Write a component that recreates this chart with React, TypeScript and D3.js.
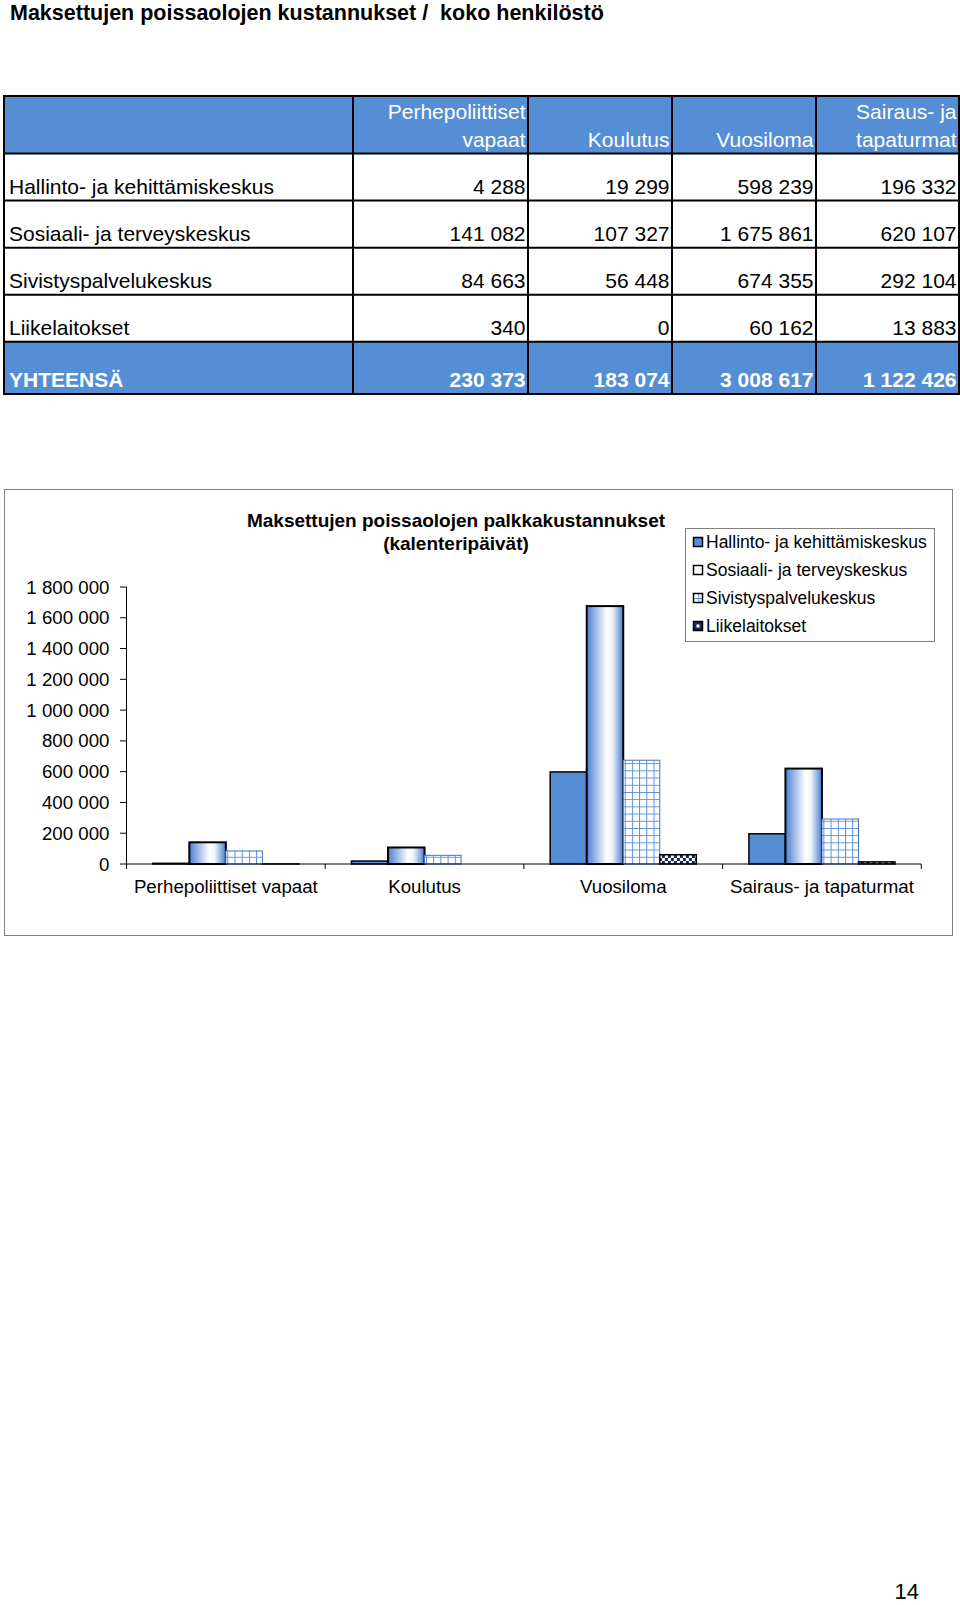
import React from "react";
import * as d3 from "d3";

const categories = ["Perhepoliittiset vapaat", "Koulutus", "Vuosiloma", "Sairaus- ja tapaturmat"];
const headerLines = [["Perhepoliittiset", "vapaat"], ["Koulutus"], ["Vuosiloma"], ["Sairaus- ja", "tapaturmat"]];
const units = ["Hallinto- ja kehittämiskeskus", "Sosiaali- ja terveyskeskus", "Sivistyspalvelukeskus", "Liikelaitokset"];
const hallinto = [4288, 19299, 598239, 196332];
const sosiaali = [141082, 107327, 1675861, 620107];
const sivistys = [84663, 56448, 674355, 292104];
const liike = [340, 0, 60162, 13883];
const totals = [230373, 183074, 3008617, 1122426];
const totalLabel = "YHTEENSÄ";
const yTicks = [0, 200000, 400000, 600000, 800000, 1000000, 1200000, 1400000, 1600000, 1800000];
const pageTitle = "Maksettujen poissaolojen kustannukset /  koko henkilöstö";
const chartTitle = ["Maksettujen poissaolojen palkkakustannukset", "(kalenteripäivät)"];
const pageNumber = "14";

const seriesValues = [hallinto, sosiaali, sivistys, liike];
const fmt = d3.formatLocale({ decimal: ",", thousands: " ", grouping: [3], currency: ["", "€"] }).format(",d");

const FONT = "'Liberation Sans', Arial, Helvetica, sans-serif";
const BLUE = "#558ed5";

const colX = [4, 353, 528, 672, 816, 959];
const rowY = [96, 153.5, 200.6, 247.7, 294.8, 341.8, 394];

const seriesFill = ["url(#fillSolid)", "url(#fillGrad)", "url(#fillGrid)", "url(#fillCheck)"];
const legendFill = ["url(#fillSolid)", "#fff", "url(#fillGrid)", "url(#fillCheckL)"];
const seriesStroke = ["#000", "#000", "#3f72c4", "#000"];
const seriesStrokeW = [1.5, 2, 1, 1.5];

export default function App() {
  const x0 = d3.scaleBand<string>().domain(categories).range([126.5, 921.3]).paddingInner(0).paddingOuter(0);
  const x1 = d3.scaleBand<string>().domain(units).range([0, x0.bandwidth()]).paddingInner(0).paddingOuter(0.72);
  const y = d3.scaleLinear().domain([0, 1800000]).range([864, 587]);
  const y0 = y(0);

  const tableRows = units.map((u, i) => ({ label: u, values: seriesValues[i] }));
  const pad = 2.5;

  return (
    <svg width={960} height={1605} style={{ position: "absolute", left: 0, top: 0, background: "#fff" }} fontFamily={FONT}>
      <defs>
        <pattern id="fillSolid" width={4} height={4} patternUnits="userSpaceOnUse">
          <rect width={4} height={4} fill={BLUE} />
        </pattern>
        <linearGradient id="fillGrad" x1="0" x2="1" y1="0" y2="0">
          <stop offset="0" stopColor="#4d80d1" />
          <stop offset="0.55" stopColor="#ffffff" />
          <stop offset="0.7" stopColor="#eef3fb" />
          <stop offset="1" stopColor="#4a7cce" />
        </linearGradient>
        <pattern id="fillGrid" width={7.2} height={7.2} patternUnits="userSpaceOnUse">
          <rect width={7.2} height={7.2} fill="#fff" />
          <path d="M0 0.5 H7.2 M0.5 0 V7.2" stroke="#5b8fd8" strokeWidth={1} />
        </pattern>
        <pattern id="fillCheck" width={6} height={6} patternUnits="userSpaceOnUse">
          <rect width={6} height={6} fill="#1b2a55" />
          <rect x={0} y={0} width={3} height={3} fill="#fff" />
          <rect x={3} y={3} width={3} height={3} fill="#fff" />
        </pattern>
        <pattern id="fillCheckL" width={9} height={9} patternUnits="userSpaceOnUse" x={693.5} y={-4.5}>
          <rect width={9} height={9} fill="#1b2a55" />
          <rect x={3} y={3} width={3} height={3} fill="#fff" />
        </pattern>
      </defs>

      {/* Page title */}
      <text x={10} y={19.5} fontSize={21.5} fontWeight="bold" style={{ whiteSpace: "pre" }} xmlSpace="preserve">{pageTitle}</text>

      {/* Table */}
      <g>
        <rect x={colX[0]} y={rowY[0]} width={colX[5] - colX[0]} height={rowY[1] - rowY[0]} fill={BLUE} />
        <rect x={colX[0]} y={rowY[5]} width={colX[5] - colX[0]} height={rowY[6] - rowY[5]} fill={BLUE} />
        {rowY.map((yy, i) => (
          <line key={"h" + i} x1={colX[0] - 1} x2={colX[5] + 1} y1={yy} y2={yy} stroke="#000" strokeWidth={2} />
        ))}
        {colX.map((xx, i) => (
          <line key={"v" + i} x1={xx} x2={xx} y1={rowY[0]} y2={rowY[6]} stroke="#000" strokeWidth={2} />
        ))}
        {headerLines.map((lines, j) => (
          <g key={"hd" + j}>
            {lines.map((t, k) => (
              <text key={k} x={colX[j + 2] - pad} y={lines.length === 2 ? (k === 0 ? 118.7 : 147.4) : 147.4} fontSize={21} fill="#fff" textAnchor="end">{t}</text>
            ))}
          </g>
        ))}
        {tableRows.map((r, i) => (
          <g key={"r" + i}>
            <text x={9} y={rowY[i + 2] - 7} fontSize={21}>{r.label}</text>
            {r.values.map((v, j) => (
              <text key={j} x={colX[j + 2] - pad} y={rowY[i + 2] - 7} fontSize={21} textAnchor="end">{fmt(v)}</text>
            ))}
          </g>
        ))}
        <text x={9} y={rowY[6] - 7} fontSize={21} fontWeight="bold" fill="#fff">{totalLabel}</text>
        {totals.map((v, j) => (
          <text key={"t" + j} x={colX[j + 2] - pad} y={rowY[6] - 7} fontSize={21} fontWeight="bold" fill="#fff" textAnchor="end">{fmt(v)}</text>
        ))}
      </g>

      {/* Chart area */}
      <rect x={4.5} y={489.5} width={948} height={446} fill="#fff" stroke="#808080" strokeWidth={1} />
      {chartTitle.map((t, i) => (
        <text key={"ct" + i} x={456} y={527 + i * 22.5} fontSize={19} fontWeight="bold" textAnchor="middle">{t}</text>
      ))}

      {/* Bars */}
      {categories.map((c, ci) => (
        <g key={"g" + ci} transform={`translate(${x0(c)},0)`}>
          {units.map((u, si) => {
            const v = seriesValues[si][ci];
            if (v <= 0) return null;
            const top = y(v);
            return (
              <rect key={si} x={x1(u)} y={top} width={x1.bandwidth()} height={y0 - top}
                fill={seriesFill[si]} stroke={seriesStroke[si]} strokeWidth={seriesStrokeW[si]} />
            );
          })}
        </g>
      ))}

      {/* Y axis */}
      <line x1={126.5} x2={126.5} y1={y(1800000)} y2={y0 + 5} stroke="#000" strokeWidth={1} />
      {yTicks.map((t) => (
        <g key={"yt" + t}>
          <line x1={120} x2={126.5} y1={y(t)} y2={y(t)} stroke="#000" strokeWidth={1} />
          <text x={109.5} y={y(t) + 6.5} fontSize={18.7} textAnchor="end">{fmt(t)}</text>
        </g>
      ))}

      {/* X axis */}
      <line x1={126.5} x2={921.3} y1={y0} y2={y0} stroke="#000" strokeWidth={1} />
      {categories.map((c, ci) => (
        <line key={"xt" + ci} x1={(x0(c) as number) + x0.bandwidth()} x2={(x0(c) as number) + x0.bandwidth()} y1={y0} y2={y0 + 5} stroke="#000" strokeWidth={1} />
      ))}
      {categories.map((c) => (
        <text key={"xl" + c} x={(x0(c) as number) + x0.bandwidth() / 2} y={892.5} fontSize={18.7} textAnchor="middle">{c}</text>
      ))}

      {/* Legend */}
      <rect x={685.5} y={528.5} width={249} height={113} fill="#fff" stroke="#808080" strokeWidth={1} />
      {units.map((u, i) => (
        <g key={"lg" + i} transform={`translate(0,${542 + i * 28})`}>
          <rect x={693.5} y={-4.5} width={9} height={9} fill={legendFill[i]} stroke="#000" strokeWidth={1.5} />
          <text x={706} y={6} fontSize={17.5}>{u}</text>
        </g>
      ))}

      {/* Page number */}
      <text x={919} y={1599} fontSize={22} textAnchor="end">{pageNumber}</text>
    </svg>
  );
}
